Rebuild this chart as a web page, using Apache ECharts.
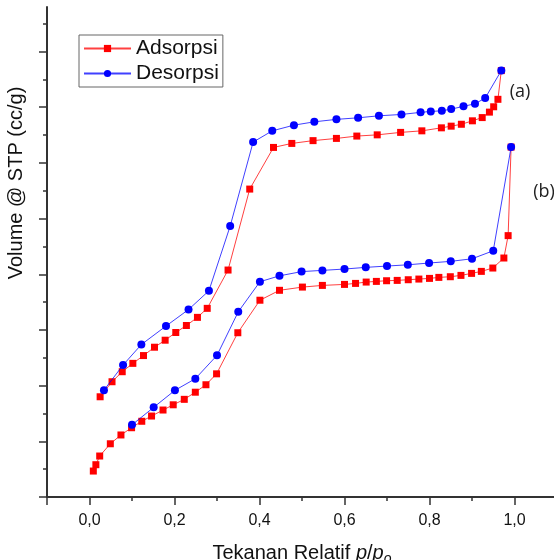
<!DOCTYPE html>
<html>
<head>
<meta charset="utf-8">
<script src="https://cdn.jsdelivr.net/npm/echarts@6/dist/echarts.min.js"></script>
<style>
  html, body { margin: 0; padding: 0; background: #fff; }
  #chart { width: 554px; height: 560px; }
</style>
</head>
<body>
<div id="chart"></div>
<script>
// Sample (a): adsorption branch (relative pressure, volume)
const adsA_x = [0.025, 0.053, 0.077, 0.102, 0.127, 0.153, 0.178, 0.203, 0.228, 0.254, 0.277, 0.326, 0.377, 0.433, 0.476, 0.526, 0.581, 0.629, 0.677, 0.732, 0.782, 0.828, 0.851, 0.875, 0.901, 0.924, 0.941, 0.951, 0.961, 0.969];
const adsA_y = [90, 103.5, 112.5, 120, 127, 134.5, 140.8, 147.7, 154, 161.3, 169.4, 203.8, 276.5, 313.9, 317.5, 320, 322, 324.1, 325.2, 327.4, 328.8, 331.5, 333, 334.7, 337.8, 340.7, 345.6, 350.4, 357.1, 382.9];
// Sample (a): desorption branch
const desA_x = [0.034, 0.079, 0.122, 0.18, 0.233, 0.281, 0.331, 0.385, 0.43, 0.481, 0.529, 0.581, 0.632, 0.681, 0.734, 0.779, 0.803, 0.829, 0.851, 0.88, 0.907, 0.931, 0.969];
const desA_y = [95.9, 118.5, 136.9, 153.5, 168.3, 185.2, 243.3, 318.7, 328.8, 333.9, 336.9, 339.1, 340.5, 342.3, 343.5, 345.4, 346.2, 346.8, 348.3, 350.8, 353.1, 358.2, 382.9];
// Sample (b): adsorption branch
const adsB_x = [0.009, 0.015, 0.024, 0.049, 0.074, 0.099, 0.123, 0.146, 0.173, 0.197, 0.223, 0.249, 0.274, 0.299, 0.349, 0.401, 0.447, 0.501, 0.548, 0.6, 0.626, 0.651, 0.675, 0.699, 0.724, 0.75, 0.775, 0.8, 0.822, 0.849, 0.874, 0.899, 0.922, 0.949, 0.975, 0.985, 0.992];
const adsB_y = [23.3, 29, 36.8, 47.8, 55.7, 62.2, 68, 72.7, 78.1, 82.8, 87.7, 94.1, 100.8, 110.6, 147.5, 176.7, 185.6, 188.5, 190, 190.9, 191.8, 193, 193.6, 194.2, 194.5, 195.1, 195.7, 196.3, 197.2, 197.8, 199, 200.8, 202.6, 205.6, 214.6, 234.7, 314.2];
// Sample (b): desorption branch
const desB_x = [0.1, 0.151, 0.201, 0.249, 0.3, 0.35, 0.401, 0.447, 0.499, 0.548, 0.6, 0.65, 0.7, 0.749, 0.799, 0.85, 0.9, 0.95, 0.992];
const desB_y = [64.8, 80.5, 95.8, 106.2, 127.2, 166.3, 193.3, 198.6, 202.4, 203.5, 204.7, 206.2, 207.4, 208.5, 210.1, 211.6, 213.9, 221.1, 314.2];

// Axis ticks
const xMajorTicks = [-0.1, 0, 0.2, 0.4, 0.6, 0.8, 1.0];
const xMinorTicks = [0.1, 0.3, 0.5, 0.7, 0.9, 1.1];
const xLabelValues = [0, 0.2, 0.4, 0.6, 0.8, 1.0];
const yMajorTicks = [0, 50, 100, 150, 200, 250, 300, 350, 400];
const yMinorTicks = [25, 75, 125, 175, 225, 275, 325, 375, 425];

const seriesNames = ['Adsorpsi', 'Desorpsi'];
const sampleTags = ['(a)', '(b)'];

const zip = (xs, ys) => xs.map((x, i) => [x, ys[i]]);

const FONT = 'Liberation Sans, Arial, sans-serif';
const AXIS_COLOR = '#333';
const RED = '#ff0000';
const BLUE = '#0000ff';

const X_MIN = -0.1, X_MAX = 1.1, Y_MIN = 0, Y_MAX = 440;
const GRID_BOX = { left: 47, right: -3, top: 7, bottom: 63, containLabel: false, outerBoundsMode: 'none' };

function adsSeries(data) {
  return {
    name: seriesNames[0], type: 'line', data: data,
    xAxisIndex: 0, yAxisIndex: 0,
    symbol: 'rect', symbolSize: 7,
    itemStyle: { color: RED },
    lineStyle: { color: RED, width: 1, opacity: 0.75 },
    emphasis: { disabled: true }, animation: false, z: 2
  };
}
function desSeries(data) {
  return {
    name: seriesNames[1], type: 'line', data: data,
    xAxisIndex: 0, yAxisIndex: 0,
    symbol: 'circle', symbolSize: 8,
    itemStyle: { color: BLUE },
    lineStyle: { color: BLUE, width: 1, opacity: 0.75 },
    emphasis: { disabled: true }, animation: false, z: 3
  };
}

const tickLine = { color: AXIS_COLOR, width: 1.5 };

const chart = echarts.init(document.getElementById('chart'), null, { renderer: 'canvas' });

chart.setOption({
  animation: false,
  backgroundColor: '#fff',
  // second grid overlays the first and only carries the minor ticks
  grid: [Object.assign({}, GRID_BOX), Object.assign({}, GRID_BOX)],
  legend: {
    orient: 'vertical', left: 79, top: 35,
    data: seriesNames,
    borderColor: '#666', borderWidth: 1, borderRadius: 0,
    padding: [3, 4, 3, 4], itemGap: 4,
    itemWidth: 47, itemHeight: 9,
    textStyle: { fontFamily: FONT, fontSize: 21, color: '#111' }
  },
  xAxis: [
    {
      type: 'value', gridIndex: 0, min: X_MIN, max: X_MAX, position: 'bottom',
      axisLine: { show: true, onZero: false, lineStyle: { color: AXIS_COLOR, width: 2 } },
      axisTick: { show: true, customValues: xMajorTicks, length: 8, inside: false, lineStyle: tickLine },
      axisLabel: {
        show: true, customValues: xLabelValues, margin: 16,
        fontFamily: FONT, fontSize: 16, color: '#111',
        formatter: v => v.toFixed(1).replace('.', ',')
      },
      splitLine: { show: false },
      name: 'Tekanan Relatif {i|p}/{i|p}{s|o}',
      nameLocation: 'middle', nameGap: 43,
      nameTextStyle: {
        fontFamily: FONT, fontSize: 20, color: '#111',
        rich: {
          i: { fontFamily: FONT, fontSize: 20, fontStyle: 'italic', color: '#111' },
          s: { fontFamily: FONT, fontSize: 14, fontStyle: 'italic', color: '#111', verticalAlign: 'bottom', padding: [12, 0, 0, 0] }
        }
      }
    },
    {
      type: 'value', gridIndex: 1, min: X_MIN, max: X_MAX, position: 'bottom',
      axisLine: { show: false, onZero: false },
      axisTick: { show: true, customValues: xMinorTicks, length: 4, inside: false, lineStyle: tickLine },
      axisLabel: { show: false },
      splitLine: { show: false }
    }
  ],
  yAxis: [
    {
      type: 'value', gridIndex: 0, min: Y_MIN, max: Y_MAX, position: 'left',
      axisLine: { show: true, onZero: false, lineStyle: { color: AXIS_COLOR, width: 2 } },
      axisTick: { show: true, customValues: yMajorTicks, length: 8, inside: false, lineStyle: tickLine },
      axisLabel: { show: false },
      splitLine: { show: false }
    },
    {
      type: 'value', gridIndex: 1, min: Y_MIN, max: Y_MAX, position: 'left',
      axisLine: { show: false, onZero: false },
      axisTick: { show: true, customValues: yMinorTicks, length: 4, inside: false, lineStyle: tickLine },
      axisLabel: { show: false },
      splitLine: { show: false }
    }
  ],
  graphic: [
    {
      type: 'text', x: 16, y: 183, rotation: Math.PI / 2,
      style: {
        text: 'Volume @ STP (cc/g)', fontFamily: FONT, fontSize: 20, fill: '#111',
        textAlign: 'center', textVerticalAlign: 'middle'
      }
    },
    {
      type: 'text', x: 520, y: 92,
      style: { text: sampleTags[0], fontFamily: 'Open Sans, Noto Sans, sans-serif', fontSize: 18, fill: '#222', textAlign: 'center', textVerticalAlign: 'middle' }
    },
    {
      type: 'text', x: 544, y: 192,
      style: { text: sampleTags[1], fontFamily: 'Open Sans, Noto Sans, sans-serif', fontSize: 18, fill: '#222', textAlign: 'center', textVerticalAlign: 'middle' }
    }
  ],
  series: [
    adsSeries(zip(adsA_x, adsA_y)),
    desSeries(zip(desA_x, desA_y)),
    adsSeries(zip(adsB_x, adsB_y)),
    desSeries(zip(desB_x, desB_y))
  ]
});
</script>
</body>
</html>
